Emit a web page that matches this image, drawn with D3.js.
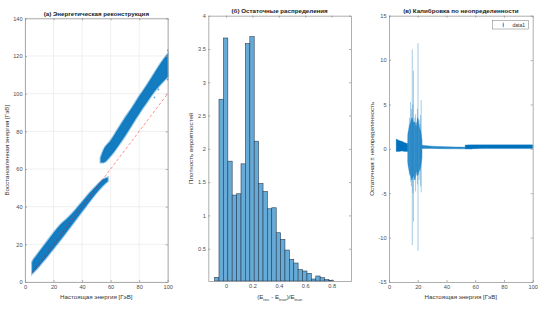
<!DOCTYPE html>
<html>
<head>
<meta charset="utf-8">
<script src="https://cdn.jsdelivr.net/npm/d3@7"></script>
<style>
  body { margin: 0; background: #fff; }
  svg { display: block; font-family: "Liberation Sans", Arial, sans-serif; }
</style>
</head>
<body>
<svg id="chart" width="551" height="309"></svg>
<script>
// ---------- values ----------

// (a) scatter cloud, drawn as the envelope of each branch
const lowTrue   = [5, 6, 8, 10, 12, 15, 20, 25, 30, 35, 40, 45, 50, 55, 58];
const lowRecMin = [4.5, 5.2, 6.8, 8.5, 10.3, 13, 17.8, 22.5, 27.5, 32.5, 37.5, 42.5, 47.3, 51.5, 53.5];
const lowRecMax = [10.5, 12, 14, 16, 18, 21, 26, 30.5, 34, 38, 42.5, 47, 51, 54.5, 55.5];
const highTrue   = [53, 55, 60, 65, 70, 75, 80, 85, 90, 95, 100];
const highRecMin = [63.5, 63.5, 67, 72, 77.5, 83.5, 89.5, 95, 100.5, 105, 109];
const highRecMax = [66, 70, 75, 81, 87, 92.5, 98.5, 104, 110, 116, 121];
// stray points outside the band
const strayTrue = [100, 100, 93.5, 90.7];
const strayRec  = [123, 107.5, 102.2, 98];
// ideal reconstruction y = x
const idealLine = [5, 100];

// (b) histogram of (Erec - Etrue)/Etrue, probability density
const binEdges = [-0.087, -0.054, -0.020, 0.013, 0.046, 0.080, 0.113, 0.146, 0.180, 0.213,
  0.246, 0.280, 0.313, 0.346, 0.380, 0.413, 0.446, 0.480, 0.513, 0.546, 0.580, 0.613,
  0.646, 0.680, 0.713, 0.746, 0.780, 0.813];
const binDensity = [0.07, 2.745, 3.665, 1.815, 1.305, 1.325, 1.775, 3.58, 3.685, 2.115,
  1.48, 1.36, 1.10, 1.115, 0.74, 0.64, 0.48, 0.34, 0.285, 0.185, 0.165, 0.13,
  0.045, 0.09, 0.065, 0.035, 0.02];

// (c) residual ± uncertainty: dense error-bar bands
const calBands = [
  { x: [5, 7, 9, 11, 13],                         lo: [-0.3, -0.3, -0.25, -0.3, -0.3], hi: [1.1, 0.95, 0.85, 0.7, 0.6], op: 1 },
  { x: [13, 14, 15, 16, 17, 18, 19, 20, 21, 22, 23],
    lo: [-1.5, -2.5, -3, -3.5, -3, -3.5, -2.5, -3, -2.5, -2, -1],
    hi: [1.5, 2.5, 3, 3.5, 3, 3, 2.5, 3.5, 2.5, 2, 1], op: 0.7 },
  { x: [23, 30, 40, 50, 58],                       lo: [0.05, 0.05, 0, 0, -0.02], hi: [0.4, 0.3, 0.25, 0.2, 0.15], op: 0.85 },
  { x: [53, 60, 70, 80, 90, 100],                  lo: [0.02, 0.02, 0.03, 0.03, 0.03, 0.03], hi: [0.42, 0.45, 0.45, 0.45, 0.45, 0.45], op: 1 }
];
// the long individual error bars
const spikeX  = [13.5, 14.2, 15.0, 15.6, 16.2, 16.6, 17.0, 17.9, 18.5, 19.2, 19.8, 20.2, 21.0, 21.6, 22.0, 22.4];
const spikeLo = [-2.0, -3.0, -3.7, -4.2, -10.85, -5.0, -8.2, -3.5, -4.8, -3.0, -4.0, -11.5, -3.5, -2.5, -4.2, -4.9];
const spikeHi = [2.0, 3.5, 5.3, 4.5, 11.2, 5.0, 8.8, 3.5, 3.9, 3.0, 4.5, 11.9, 3.3, 2.8, 3.8, 5.5];

const blue = "#0072BD";
const svg = d3.select("#chart");
svg.append("rect").attr("width", 551).attr("height", 309).attr("fill", "#fff");

// build one subplot: scales, a layer for the marks, axes drawn on top
function makePanel(box, xDom, yDom, xTicks, yTicks, grid) {
  const x = d3.scaleLinear().domain(xDom).range([box.left, box.right]);
  const y = d3.scaleLinear().domain(yDom).range([box.bottom, box.top]);

  if (grid) {
    const gg = svg.append("g").attr("stroke", "#e6e6e6").attr("stroke-width", 0.6);
    gg.selectAll(".gx").data(xTicks).join("line")
      .attr("x1", d => x(d)).attr("x2", d => x(d))
      .attr("y1", box.top).attr("y2", box.bottom);
    gg.selectAll(".gy").data(yTicks).join("line")
      .attr("y1", d => y(d)).attr("y2", d => y(d))
      .attr("x1", box.left).attr("x2", box.right);
  }

  const marks = svg.append("g");
  const axes = svg.append("g");
  const fmt = d => String(d);

  axes.append("g").attr("transform", `translate(0,${box.bottom})`)
    .call(d3.axisBottom(x).tickValues(xTicks).tickSizeInner(-2).tickSizeOuter(0).tickPadding(3.5).tickFormat(fmt));
  axes.append("g").attr("transform", `translate(0,${box.top})`)
    .call(d3.axisTop(x).tickValues(xTicks).tickSizeInner(-2).tickSizeOuter(0).tickFormat(""));
  axes.append("g").attr("transform", `translate(${box.left},0)`)
    .call(d3.axisLeft(y).tickValues(yTicks).tickSizeInner(-2).tickSizeOuter(0).tickPadding(2.5).tickFormat(fmt));
  axes.append("g").attr("transform", `translate(${box.right},0)`)
    .call(d3.axisRight(y).tickValues(yTicks).tickSizeInner(-2).tickSizeOuter(0).tickFormat(""));

  axes.selectAll("path, line").attr("stroke", "#8c8c8c").attr("stroke-width", 0.7);
  axes.selectAll("text").attr("fill", "#4d4d4d").attr("font-size", 5.6).attr("font-family", "Liberation Sans, Arial, sans-serif");

  return { x, y, marks, box };
}

function titleText(p, txt, yPos) {
  svg.append("text")
    .attr("x", (p.box.left + p.box.right) / 2).attr("y", yPos)
    .attr("text-anchor", "middle").attr("font-size", 6.2).attr("font-weight", "bold")
    .attr("fill", "#1a1a1a").text(txt);
}
function xLabel(p, txt) {
  return svg.append("text")
    .attr("x", (p.box.left + p.box.right) / 2).attr("y", 299)
    .attr("text-anchor", "middle").attr("font-size", 6.2).attr("fill", "#333").text(txt);
}
function yLabel(p, txt, xPos) {
  const cy = (p.box.top + p.box.bottom) / 2;
  svg.append("text")
    .attr("transform", `translate(${xPos},${cy}) rotate(-90)`)
    .attr("text-anchor", "middle").attr("dy", "0.35em")
    .attr("font-size", 6.2).attr("fill", "#333").text(txt);
}

// ---------- (a) energy reconstruction ----------
const pa = makePanel({left: 25, right: 167.7, top: 18.3, bottom: 282},
  [0, 100], [0, 140], d3.range(0, 101, 20), d3.range(0, 141, 20), true);

const bandArea = (xs, lo, hi, p) => d3.area()
  .x((d, i) => p.x(xs[i])).y0((d, i) => p.y(lo[i])).y1((d, i) => p.y(hi[i]))
  .curve(d3.curveMonotoneX)(xs);

[[lowTrue, lowRecMin, lowRecMax], [highTrue, highRecMin, highRecMax]].forEach(([xs, lo, hi]) => {
  pa.marks.append("path")
    .attr("d", bandArea(xs, lo, hi, pa))
    .attr("fill", blue).attr("fill-opacity", 0.92)
    .attr("stroke", blue).attr("stroke-opacity", 0.4).attr("stroke-width", 2.2);
});
pa.marks.selectAll(".stray").data(strayTrue).join("circle")
  .attr("cx", d => pa.x(d)).attr("cy", (d, i) => pa.y(strayRec[i]))
  .attr("r", 0.9).attr("fill", blue).attr("fill-opacity", 0.6);
pa.marks.append("line")
  .attr("x1", pa.x(idealLine[0])).attr("y1", pa.y(idealLine[0]))
  .attr("x2", pa.x(idealLine[1])).attr("y2", pa.y(idealLine[1]))
  .attr("stroke", "#ff0000").attr("stroke-opacity", 0.55)
  .attr("stroke-width", 0.8).attr("stroke-dasharray", "3,2");

titleText(pa, "(a) Энергетическая реконструкция", 16);
xLabel(pa, "Настоящая энергия [ГэВ]");
yLabel(pa, "Восстановленная энергия [ГэВ]", 7);

// ---------- (b) residual distribution ----------
const pb = makePanel({left: 208.3, right: 351, top: 15.7, bottom: 281},
  [-0.135, 0.947], [0.015, 4], [0, 0.2, 0.4, 0.6, 0.8], [0.5, 1, 1.5, 2, 2.5, 3, 3.5, 4], false);

pb.marks.selectAll("rect").data(binDensity).join("rect")
  .attr("x", (d, i) => pb.x(binEdges[i]))
  .attr("width", (d, i) => pb.x(binEdges[i + 1]) - pb.x(binEdges[i]))
  .attr("y", d => pb.y(d))
  .attr("height", d => pb.y(0.015) - pb.y(d))
  .attr("fill", "rgb(102,170,215)")
  .attr("stroke", "#2a3f55").attr("stroke-width", 0.6);

titleText(pb, "(б) Остаточные распределения", 13);
const xl = xLabel(pb, "");
xl.append("tspan").text("(E");
xl.append("tspan").attr("font-size", 4.4).attr("dy", 1.6).text("rec");
xl.append("tspan").attr("dy", -1.6).text(" - E");
xl.append("tspan").attr("font-size", 4.4).attr("dy", 1.6).text("true");
xl.append("tspan").attr("dy", -1.6).text(")/E");
xl.append("tspan").attr("font-size", 4.4).attr("dy", 1.6).text("true");
yLabel(pb, "Плотность вероятностей", 191);

// ---------- (c) uncertainty calibration ----------
const pc = makePanel({left: 389, right: 532.7, top: 15.7, bottom: 282},
  [0, 100], [-15, 15], d3.range(0, 101, 20), d3.range(-15, 16, 5), false);

calBands.forEach(b => {
  pc.marks.append("path")
    .attr("d", bandArea(b.x, b.lo, b.hi, pc))
    .attr("fill", blue).attr("fill-opacity", b.op)
    .attr("stroke", blue).attr("stroke-opacity", 0.5).attr("stroke-width", 0.6);
});
pc.marks.selectAll(".spike").data(spikeX).join("line")
  .attr("x1", d => pc.x(d)).attr("x2", d => pc.x(d))
  .attr("y1", (d, i) => pc.y(spikeLo[i])).attr("y2", (d, i) => pc.y(spikeHi[i]))
  .attr("stroke", blue).attr("stroke-opacity", 0.45).attr("stroke-width", 0.8);

// legend
const lg = svg.append("g");
lg.append("rect").attr("x", 492.3).attr("y", 20.7).attr("width", 36).attr("height", 8.3)
  .attr("fill", "#fff").attr("stroke", "#7a7a7a").attr("stroke-width", 0.5);
lg.append("line").attr("x1", 503.3).attr("x2", 503.3).attr("y1", 22.6).attr("y2", 27.2)
  .attr("stroke", blue).attr("stroke-width", 0.7);
lg.append("line").attr("x1", 502.6).attr("x2", 504).attr("y1", 24.9).attr("y2", 24.9)
  .attr("stroke", blue).attr("stroke-width", 0.5);
lg.append("text").attr("x", 512.5).attr("y", 26.7).attr("font-size", 5).attr("fill", "#333").text("data1");

titleText(pc, "(в) Калибровка по неопределенности", 13);
xLabel(pc, "Настоящая энергия [ГэВ]");
yLabel(pc, "Остаточная ± неопределенность", 371.7);
</script>
</body>
</html>
